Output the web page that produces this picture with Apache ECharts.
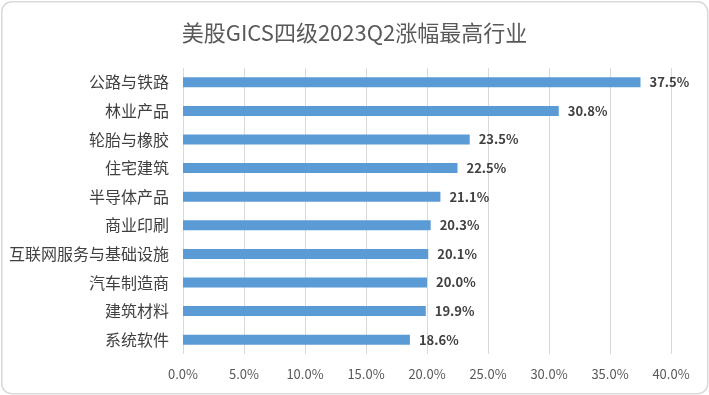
<!DOCTYPE html>
<html><head><meta charset="utf-8">
<script src="https://cdn.jsdelivr.net/npm/echarts@6/dist/echarts.min.js"></script>
<style>html,body{margin:0;padding:0;background:#fff}#c{width:709px;height:395px}</style>
</head><body><div id="c"></div>
<script>
const title = '美股GICS四级2023Q2涨幅最高行业';
const categories = ['公路与铁路','林业产品','轮胎与橡胶','住宅建筑','半导体产品','商业印刷','互联网服务与基础设施','汽车制造商','建筑材料','系统软件'];
const values = [37.5, 30.8, 23.5, 22.5, 21.1, 20.3, 20.1, 20.0, 19.9, 18.6];
const xTicks = {min: 0, max: 40, step: 5};

const font = '"Noto Sans CJK SC", "Microsoft YaHei", sans-serif';
const chart = echarts.init(document.getElementById('c'));
chart.setOption({
  animation: false,
  backgroundColor: '#fff',
  graphic: [{
    type: 'rect', left: 1, top: 1, z: -1,
    shape: {width: 706, height: 392, r: 10},
    style: {fill: '#fff', stroke: '#d9d9d9', lineWidth: 1.5}
  }],
  title: {
    text: title, left: 'center', top: 17,
    textStyle: {fontFamily: font, fontSize: 22, fontWeight: 'normal', color: '#595959'}
  },
  grid: {left: 183, right: 38, top: 68, bottom: 41},
  xAxis: {
    type: 'value', min: xTicks.min, max: xTicks.max, interval: xTicks.step,
    axisLine: {show: false}, axisTick: {show: false},
    splitLine: {lineStyle: {color: '#d9d9d9', width: 1}},
    axisLabel: {formatter: v => v.toFixed(1) + '%', color: '#595959', fontFamily: font, fontSize: 13, margin: 14}
  },
  yAxis: {
    type: 'category', data: categories, inverse: true,
    axisLine: {show: false}, axisTick: {show: false},
    axisLabel: {color: '#404040', fontFamily: font, fontSize: 16, margin: 14}
  },
  series: [{
    type: 'bar', data: values, barWidth: 10,
    itemStyle: {color: '#5b9bd5'},
    label: {show: true, position: 'right', distance: 9, formatter: p => p.value.toFixed(1) + '%',
      color: '#404040', fontFamily: font, fontSize: 13, fontWeight: 'bold'}
  }]
});
</script></body></html>
